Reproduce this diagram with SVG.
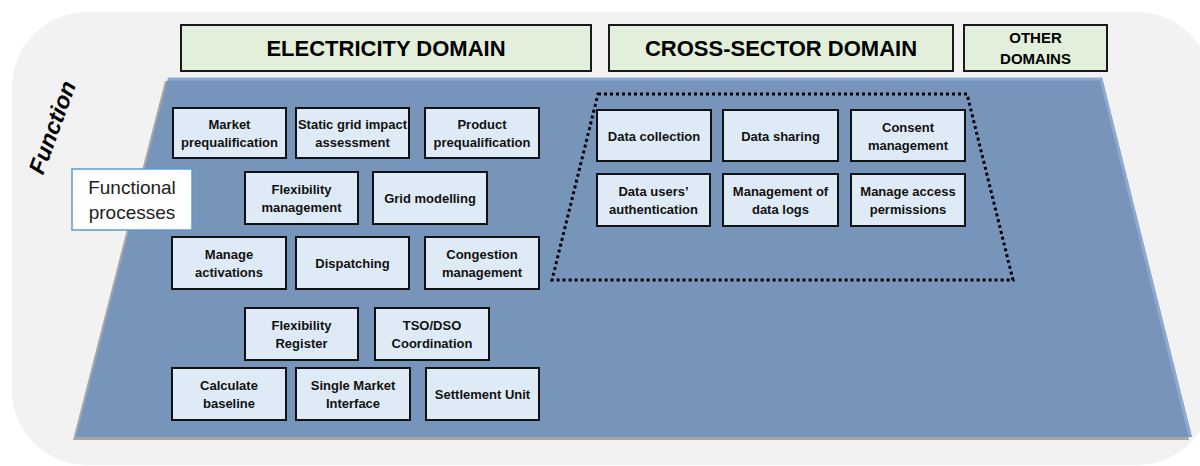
<svg xmlns="http://www.w3.org/2000/svg" width="1200" height="466" viewBox="0 0 1200 466">
<style>
.hdr{fill:#e2efda;stroke:#1a1a1a;stroke-width:2}
.hdrt{font-family:"Liberation Sans",Arial,sans-serif;font-weight:bold;fill:#000;text-anchor:middle}
.box{fill:#deebf7;stroke:#111;stroke-width:2}
.bt{font-family:"Liberation Sans",Arial,sans-serif;font-weight:bold;font-size:13px;fill:#111;text-anchor:middle}
</style>
<rect x="12" y="12" width="1200" height="453" rx="75" ry="75" fill="#f2f2f2"/>
<g id="plane">
<polygon points="165,81 1099,81 1189,440 73,440" fill="#a6a6a6"/>
<polygon points="168,78 1102,78 1192,437 76,437" fill="#7794bb"/>
<polyline points="168,79 1101,79 1190,436" fill="none" stroke="#8eaad3" stroke-width="3"/>
</g>
<g id="header-electricity">
<rect class="hdr" x="181" y="25" width="410" height="46"/>
<text class="hdrt" x="386" y="56" font-size="22">ELECTRICITY DOMAIN</text>
</g>
<g id="header-cross-sector">
<rect class="hdr" x="609" y="25" width="344" height="46"/>
<text class="hdrt" x="781" y="56" font-size="22">CROSS-SECTOR DOMAIN</text>
</g>
<g id="header-other">
<rect class="hdr" x="964" y="25" width="143" height="46"/>
<text class="hdrt" x="1035.5" y="43" font-size="15">OTHER</text>
<text class="hdrt" x="1035.5" y="64" font-size="15">DOMAINS</text>
</g>
<g id="label-function">
<text x="0" y="0" transform="translate(54,128) rotate(-70)" font-family="'Liberation Sans',Arial,sans-serif" font-weight="bold" font-style="italic" font-size="23" text-anchor="middle" dominant-baseline="middle" fill="#000">Function</text>
</g>
<g id="functional-processes">
<rect x="72" y="169" width="120" height="61" fill="#fff" stroke="#5b9bd5" stroke-width="1.5"/>
<text x="132" y="194" font-family="'Liberation Sans',Arial,sans-serif" font-size="19" text-anchor="middle" fill="#222">Functional</text>
<text x="132" y="219" font-family="'Liberation Sans',Arial,sans-serif" font-size="19" text-anchor="middle" fill="#222">processes</text>
</g>
<g id="cross-sector-boundary">
<polygon points="598,94 967,94 1013,280 552,280" fill="none" stroke="#000" stroke-width="3" stroke-dasharray="3 3"/>
</g>
<g id="market-prequalification">
<rect class="box" x="173" y="108" width="113" height="50"/>
<text class="bt" x="229.5" y="128.5">Market</text><text class="bt" x="229.5" y="146.5">prequalification</text>
</g>
<g id="static-grid-impact-assessment">
<rect class="box" x="296" y="108" width="113" height="50"/>
<text class="bt" x="352.5" y="128.5">Static grid impact</text><text class="bt" x="352.5" y="146.5">assessment</text>
</g>
<g id="product-prequalification">
<rect class="box" x="425" y="108" width="114" height="50"/>
<text class="bt" x="482" y="128.5">Product</text><text class="bt" x="482" y="146.5">prequalification</text>
</g>
<g id="flexibility-management">
<rect class="box" x="245" y="172" width="113" height="52"/>
<text class="bt" x="301.5" y="193.5">Flexibility</text><text class="bt" x="301.5" y="211.5">management</text>
</g>
<g id="grid-modelling">
<rect class="box" x="373" y="172" width="114" height="52"/>
<text class="bt" x="430" y="202.5">Grid modelling</text>
</g>
<g id="manage-activations">
<rect class="box" x="172" y="237" width="114" height="52"/>
<text class="bt" x="229" y="258.5">Manage</text><text class="bt" x="229" y="276.5">activations</text>
</g>
<g id="dispatching">
<rect class="box" x="296" y="237" width="113" height="52"/>
<text class="bt" x="352.5" y="267.5">Dispatching</text>
</g>
<g id="congestion-management">
<rect class="box" x="425" y="237" width="114" height="52"/>
<text class="bt" x="482" y="259">Congestion</text><text class="bt" x="482" y="277">management</text>
</g>
<g id="flexibility-register">
<rect class="box" x="245" y="308" width="113" height="52"/>
<text class="bt" x="301.5" y="329.5">Flexibility</text><text class="bt" x="301.5" y="347.5">Register</text>
</g>
<g id="tso-dso-coordination">
<rect class="box" x="375" y="308" width="114" height="52"/>
<text class="bt" x="432" y="329.5">TSO/DSO</text><text class="bt" x="432" y="347.5">Coordination</text>
</g>
<g id="calculate-baseline">
<rect class="box" x="172" y="368" width="114" height="52"/>
<text class="bt" x="229" y="389.5">Calculate</text><text class="bt" x="229" y="407.5">baseline</text>
</g>
<g id="single-market-interface">
<rect class="box" x="296" y="368" width="114" height="52"/>
<text class="bt" x="353" y="389.5">Single Market</text><text class="bt" x="353" y="407.5">Interface</text>
</g>
<g id="settlement-unit">
<rect class="box" x="426" y="368" width="113" height="52"/>
<text class="bt" x="482.5" y="398.5">Settlement Unit</text>
</g>
<g id="data-collection">
<rect class="box" x="597" y="110" width="114" height="51"/>
<text class="bt" x="654" y="140.5">Data collection</text>
</g>
<g id="data-sharing">
<rect class="box" x="723" y="110" width="115" height="51"/>
<text class="bt" x="780.5" y="140.5">Data sharing</text>
</g>
<g id="consent-management">
<rect class="box" x="851" y="110" width="114" height="51"/>
<text class="bt" x="908" y="131.5">Consent</text><text class="bt" x="908" y="149.5">management</text>
</g>
<g id="data-users-authentication">
<rect class="box" x="597" y="174" width="113" height="52"/>
<text class="bt" x="653.5" y="195.5">Data users’</text><text class="bt" x="653.5" y="213.5">authentication</text>
</g>
<g id="management-of-data-logs">
<rect class="box" x="723" y="174" width="115" height="52"/>
<text class="bt" x="780.5" y="195.5">Management of</text><text class="bt" x="780.5" y="213.5">data logs</text>
</g>
<g id="manage-access-permissions">
<rect class="box" x="851" y="174" width="114" height="52"/>
<text class="bt" x="908" y="195.5">Manage access</text><text class="bt" x="908" y="213.5">permissions</text>
</g>
<g id="connectors"/>
</svg>
